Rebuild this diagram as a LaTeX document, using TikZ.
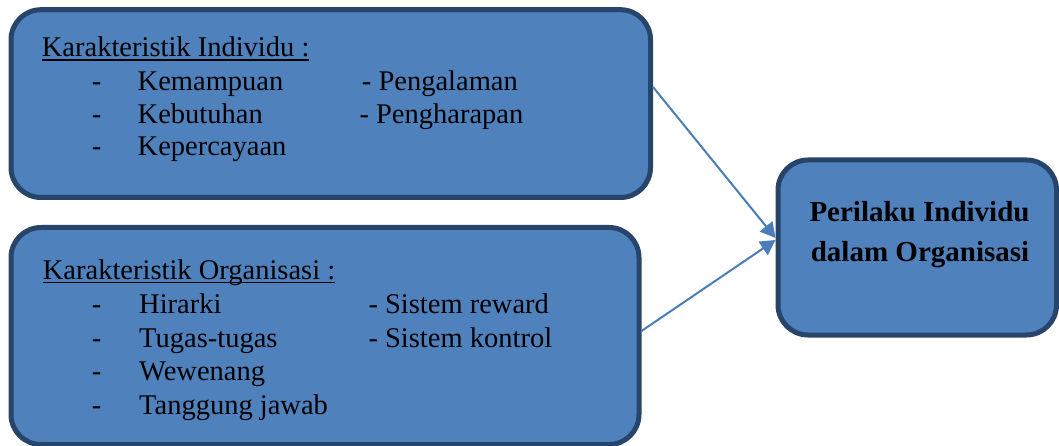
\documentclass[tikz,border=0pt]{standalone}
\usepackage{fontspec}
\setmainfont{Liberation Serif}
\usetikzlibrary{arrows.meta}
\definecolor{boxfill}{HTML}{4F81BD}
\definecolor{boxline}{HTML}{27446B}
\definecolor{arrcol}{HTML}{4A7EBB}
\newcommand{\myuline}[1]{\setbox0\hbox{#1}\rlap{\rule[-4.2pt]{\wd0}{1.7pt}}\box0}
\tikzset{
  box/.style={draw=boxline, fill=boxfill, line width=5pt, rounded corners=30pt, inner sep=0pt, shape=rectangle},
  txt/.style={anchor=base west, inner sep=0pt, font=\fontsize{28.5}{34}\selectfont},
  btxt/.style={anchor=base, inner sep=0pt, font=\fontsize{29}{39}\selectfont\bfseries},
  arr/.style={draw=arrcol, line width=2pt, -{Triangle[length=15pt,width=16pt]}}
}
\begin{document}
\begin{tikzpicture}[x=1pt,y=-1pt]
\useasboundingbox (0,0) rectangle (1059,446);
% boxes
\node[box, minimum width=639.5pt, minimum height=187.8pt] (ind) at (330.75,103.6) {};
\node[box, minimum width=628pt, minimum height=217pt] (org) at (325,336) {};
\node[box, minimum width=278.5pt, minimum height=175pt] (per) at (917.25,247.5) {};
% box 1 text
\node[txt] (t1) at (41.7,56.8) {\myuline{Karakteristik Individu :}};
\node[txt] (d11) at (91.7,90.8) {-};
\node[txt] (d12) at (91.7,123.3) {-};
\node[txt] (d13) at (91.7,155.8) {-};
\node[txt] (i11) at (137.5,90.8) {Kemampuan};
\node[txt] (i12) at (137.5,123.3) {Kebutuhan};
\node[txt] (i13) at (137.5,155.8) {Kepercayaan};
\node[txt] (j11) at (361.7,90.8) {- Pengalaman};
\node[txt] (j12) at (359.3,123.3) {- Pengharapan};
% box 2 text
\node[txt] (t2) at (42.7,279.3) {\myuline{Karakteristik Organisasi :}};
\node[txt] (d21) at (91.7,313.3) {-};
\node[txt] (d22) at (91.7,347.5) {-};
\node[txt] (d23) at (91.7,380.7) {-};
\node[txt] (d24) at (91.7,414.7) {-};
\node[txt] (i21) at (139,313.3) {Hirarki};
\node[txt] (i22) at (139,347.5) {Tugas-tugas};
\node[txt] (i23) at (139,380.7) {Wewenang};
\node[txt] (i24) at (139,414.7) {Tanggung jawab};
\node[txt] (j21) at (368.3,313.3) {- Sistem reward};
\node[txt] (j22) at (368.3,347.5) {- Sistem kontrol};
% box 3 text
\node[btxt] (p1) at (919.5,221.7) {Perilaku Individu};
\node[btxt] (p2) at (920,261.7) {dalam Organisasi};
% arrows
\draw[arr] ([yshift=16.6pt]ind.east) -- ([yshift=9.5pt]per.west);
\draw[arr] ([yshift=5pt]org.east) -- ([yshift=7.5pt]per.west);
\end{tikzpicture}
\end{document}
